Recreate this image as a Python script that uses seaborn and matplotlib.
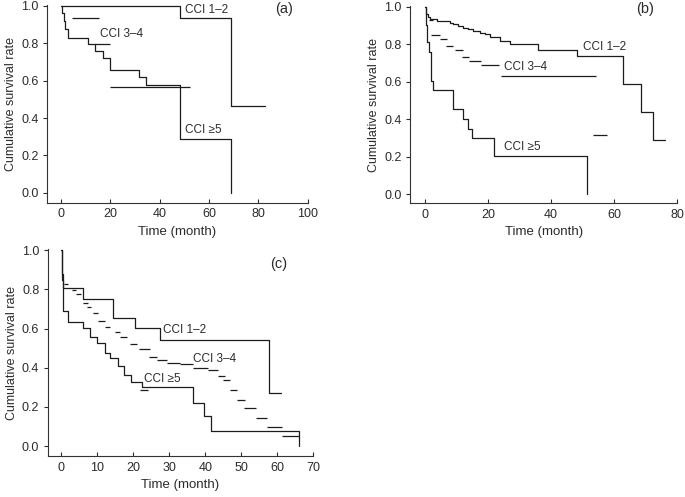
import seaborn as sns
import matplotlib.pyplot as plt

# (a) survival steps
a12_time = [0, 48.2, 68.9, 82.7]
a12_surv = [1.0, 0.934, 0.466, 0.466]
a34_start = [4.6, 13.8, 19.9]
a34_end = [15.4, 19.9, 52.4]
a34_surv = [0.936, 0.796, 0.568]
a5_time = [0, 0.5, 1.0, 1.6, 3.0, 11.1, 13.8, 17.2, 19.9, 31.7, 34.5, 48.2, 68.9]
a5_surv = [1.0, 0.964, 0.92, 0.876, 0.828, 0.796, 0.757, 0.721, 0.657, 0.618, 0.579, 0.290, 0.0]

# (b)
b12_time = [0, 0.3, 0.8, 1.5, 3.7, 7.9, 9.0, 10.5, 12.0, 13.5, 15.3, 17.5, 19.0, 20.6,
            23.8, 26.9, 35.9, 48.1, 62.9, 68.4, 72.4, 76.1]
b12_surv = [1.0, 0.96, 0.945, 0.935, 0.925, 0.915, 0.905, 0.895, 0.888, 0.88, 0.871, 0.862,
            0.852, 0.836, 0.815, 0.800, 0.768, 0.738, 0.588, 0.438, 0.291, 0.291]
b34_start = [1.2, 1.8, 4.8, 6.7, 9.5, 11.7, 13.9, 17.8, 24.0, 53.4]
b34_end = [2.4, 4.8, 6.9, 9.0, 11.9, 14.1, 17.9, 23.6, 54.2, 57.6]
b34_surv = [0.93, 0.850, 0.827, 0.788, 0.768, 0.730, 0.709, 0.690, 0.631, 0.318]
b5_time = [0, 0.3, 0.74, 1.37, 1.8, 2.4, 9.0, 11.9, 13.7, 14.8, 21.9, 51.3]
b5_surv = [1.0, 0.9, 0.809, 0.756, 0.606, 0.557, 0.456, 0.403, 0.35, 0.302, 0.203, 0.0]

# (c)
c12_time = [0, 0.4, 0.65, 6.2, 14.3, 20.5, 27.5, 57.8, 61.0]
c12_surv = [1.0, 0.88, 0.805, 0.75, 0.654, 0.601, 0.542, 0.271, 0.271]
c34_start = [0.9, 3.0, 4.1, 6.2, 7.1, 9.0, 10.4, 12.2, 15.0, 16.4, 19.1, 21.5, 24.5, 26.5,
             29.3, 33.0, 36.5, 40.9, 43.6, 44.9, 46.9, 48.9, 50.8, 54.1, 57.1, 61.2]
c34_end = [2.0, 4.1, 5.5, 7.6, 8.3, 10.4, 12.2, 13.6, 16.4, 18.2, 21.0, 24.7, 26.5, 29.3,
           33.0, 36.5, 40.9, 43.6, 45.5, 46.9, 48.9, 51.0, 54.1, 57.1, 61.2, 66.0]
c34_surv = [0.827, 0.797, 0.776, 0.729, 0.712, 0.678, 0.641, 0.610, 0.581, 0.556, 0.522,
            0.495, 0.456, 0.441, 0.426, 0.418, 0.398, 0.386, 0.356, 0.335, 0.288, 0.237,
            0.196, 0.145, 0.097, 0.049]
c5_time = [0, 0.3, 0.65, 2.0, 6.2, 8.0, 10.1, 12.2, 13.6, 15.9, 17.5, 19.3, 22.4, 36.5,
           39.7, 41.5, 66.0]
c5_surv = [1.0, 0.85, 0.69, 0.632, 0.603, 0.556, 0.525, 0.474, 0.451, 0.407, 0.361, 0.327,
           0.301, 0.222, 0.152, 0.078, 0.0]
c5_cens_start = [21.9]
c5_cens_end = [24.2]
c5_cens_surv = [0.288]

sns.set_style('ticks')
plt.rcParams['font.family'] = ['Liberation Sans', 'DejaVu Sans']

LINE = '#1c1c1c'
TXT = '#2b2b2b'
FS = 9

fig = plt.figure(figsize=(6.85, 4.97), dpi=100)


def setup(ax, xmin, xmax, ymin, xticks, tag, tag_xy):
    ax.set_xlim(xmin, xmax)
    ax.set_ylim(ymin, 1.005)
    ax.set_xticks(xticks)
    ax.set_yticks([0, 0.2, 0.4, 0.6, 0.8, 1.0])
    ax.set_yticklabels(['0.0', '0.2', '0.4', '0.6', '0.8', '1.0'])
    sns.despine(ax=ax)
    for s in ['left', 'bottom']:
        ax.spines[s].set_linewidth(0.8)
        ax.spines[s].set_color('#333333')
    ax.tick_params(axis='x', direction='in', length=3, width=0.8, pad=4,
                   labelsize=FS, colors=TXT)
    ax.tick_params(axis='y', direction='out', length=3, width=0.8, pad=3,
                   labelsize=FS, colors=TXT)
    ax.set_xlabel('Time (month)', fontsize=9.5, color=TXT, labelpad=4)
    ax.set_ylabel('Cumulative survival rate', fontsize=9, color=TXT, labelpad=3)
    ax.text(tag_xy[0], tag_xy[1], tag, fontsize=10.5, color=TXT, ha='center', va='center')


def steps(ax, t, s):
    sns.lineplot(x=t, y=s, ax=ax, drawstyle='steps-post', color=LINE, lw=0.9,
                 estimator=None, sort=False)


def dashes(ax, y, x0, x1):
    ax.hlines(y, x0, x1, color=LINE, lw=0.9)


def label(ax, x, y, txt):
    ax.text(x, y, txt, fontsize=8.5, color=TXT, ha='left', va='center')


# (a)
ax = fig.add_axes([0.0686, 0.5922, 0.3806, 0.3977])
steps(ax, a12_time, a12_surv)
dashes(ax, a34_surv, a34_start, a34_end)
steps(ax, a5_time, a5_surv)
label(ax, 50.3, 0.977, 'CCI 1–2')
label(ax, 15.8, 0.849, 'CCI 3–4')
label(ax, 50.3, 0.338, 'CCI ≥5')
setup(ax, -5.7, 100, -0.053, [0, 20, 40, 60, 80, 100], '(a)', (90.4, 0.986))

# (b)
ax = fig.add_axes([0.5985, 0.5909, 0.3903, 0.3976])
steps(ax, b12_time, b12_surv)
dashes(ax, b34_surv, b34_start, b34_end)
steps(ax, b5_time, b5_surv)
label(ax, 50.2, 0.786, 'CCI 1–2')
label(ax, 25.0, 0.680, 'CCI 3–4')
label(ax, 25.0, 0.252, 'CCI ≥5')
setup(ax, -4.76, 80, -0.048, [0, 20, 40, 60, 80], '(b)', (69.8, 0.986))

# (c)
ax = fig.add_axes([0.0696, 0.0825, 0.3878, 0.4159])
steps(ax, c12_time, c12_surv)
dashes(ax, c34_surv, c34_start, c34_end)
steps(ax, c5_time, c5_surv)
dashes(ax, c5_cens_surv, c5_cens_start, c5_cens_end)
label(ax, 28.4, 0.593, 'CCI 1–2')
label(ax, 36.5, 0.446, 'CCI 3–4')
label(ax, 23.0, 0.341, 'CCI ≥5')
setup(ax, -3.7, 70, -0.051, [0, 10, 20, 30, 40, 50, 60, 70], '(c)', (60.3, 0.929))

fig.savefig('out.png', dpi=100)
